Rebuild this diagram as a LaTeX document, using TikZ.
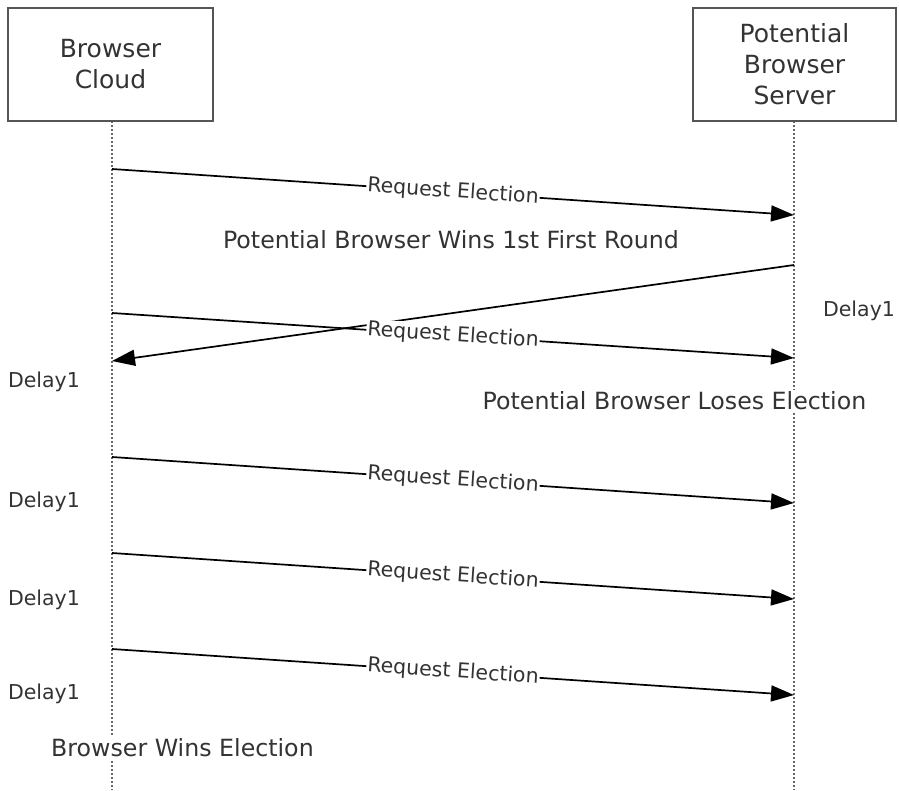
\documentclass[tikz,border=0pt]{standalone}
\usepackage{fontspec}
\setmainfont{DejaVu Sans}
\usetikzlibrary{arrows.meta}
\definecolor{txt}{HTML}{333333}
\definecolor{boxc}{HTML}{555555}
\definecolor{lifec}{HTML}{666666}
\begin{document}
\begin{tikzpicture}[x=1pt,y=-1pt,
  actor/.style={draw=boxc, line width=2.2pt, fill=white, align=center, text=txt,
    font=\fontsize{25}{31}\selectfont, inner sep=0pt},
  life/.style={draw=lifec, line width=2.4pt, dash pattern=on 2pt off 2pt},
  msg/.style={draw=black, line width=1.7pt, -{Triangle[length=23pt,width=16pt]}},
  mlabel/.style={sloped, fill=white, text=txt, font=\fontsize{20.5}{24}\selectfont, inner sep=1pt},
  note/.style={fill=white, text=txt, font=\fontsize{23.7}{28}\selectfont, inner sep=2pt},
  delay/.style={text=txt, font=\fontsize{20.5}{24}\selectfont, inner sep=0pt}]
\useasboundingbox (0,0) rectangle (899,790);

% lifelines
\coordinate (Ltop) at (112,121);
\coordinate (Lbot) at (112,790);
\coordinate (Rtop) at (794,121);
\coordinate (Rbot) at (794,790);
\draw[life] (Ltop) -- (Lbot);
\draw[life] (Rtop) -- (Rbot);

% actors
\node[actor, minimum width=205pt, minimum height=113pt] (bc) at (110.5,64.5) {Browser\\Cloud};
\node[actor, minimum width=203pt, minimum height=113pt] (pbs) at (794.5,64.5) {Potential\\Browser\\Server};

% message end points
\coordinate (m1s) at (112,169); \coordinate (m1e) at (794,215);
\coordinate (r1s) at (794,265); \coordinate (r1e) at (112,361);
\coordinate (m2s) at (112,313); \coordinate (m2e) at (794,358);
\coordinate (m3s) at (112,457); \coordinate (m3e) at (794,503);
\coordinate (m4s) at (112,553); \coordinate (m4e) at (794,599);
\coordinate (m5s) at (112,649); \coordinate (m5e) at (794,695);

\draw[msg] (m1s) -- node[mlabel] (l1) {Request Election} (m1e);
\draw[msg] (r1s) -- (r1e);
\draw[msg] (m2s) -- node[mlabel] (l2) {Request Election} (m2e);
\draw[msg] (m3s) -- node[mlabel] (l3) {Request Election} (m3e);
\draw[msg] (m4s) -- node[mlabel] (l4) {Request Election} (m4e);
\draw[msg] (m5s) -- node[mlabel] (l5) {Request Election} (m5e);

% notes
\node[note] (n1) at (451,240) {Potential Browser Wins 1st First Round};
\node[note] (n2) at (674.5,401) {Potential Browser Loses Election};
\node[note] (n3) at (182.5,748) {Browser Wins Election};

% delays
\node[delay] (d0) at (859,311) {Delay1};
\node[delay] (d1) at (44,382) {Delay1};
\node[delay] (d2) at (44,502) {Delay1};
\node[delay] (d3) at (44,600) {Delay1};
\node[delay] (d4) at (44,694) {Delay1};
\end{tikzpicture}
\end{document}
